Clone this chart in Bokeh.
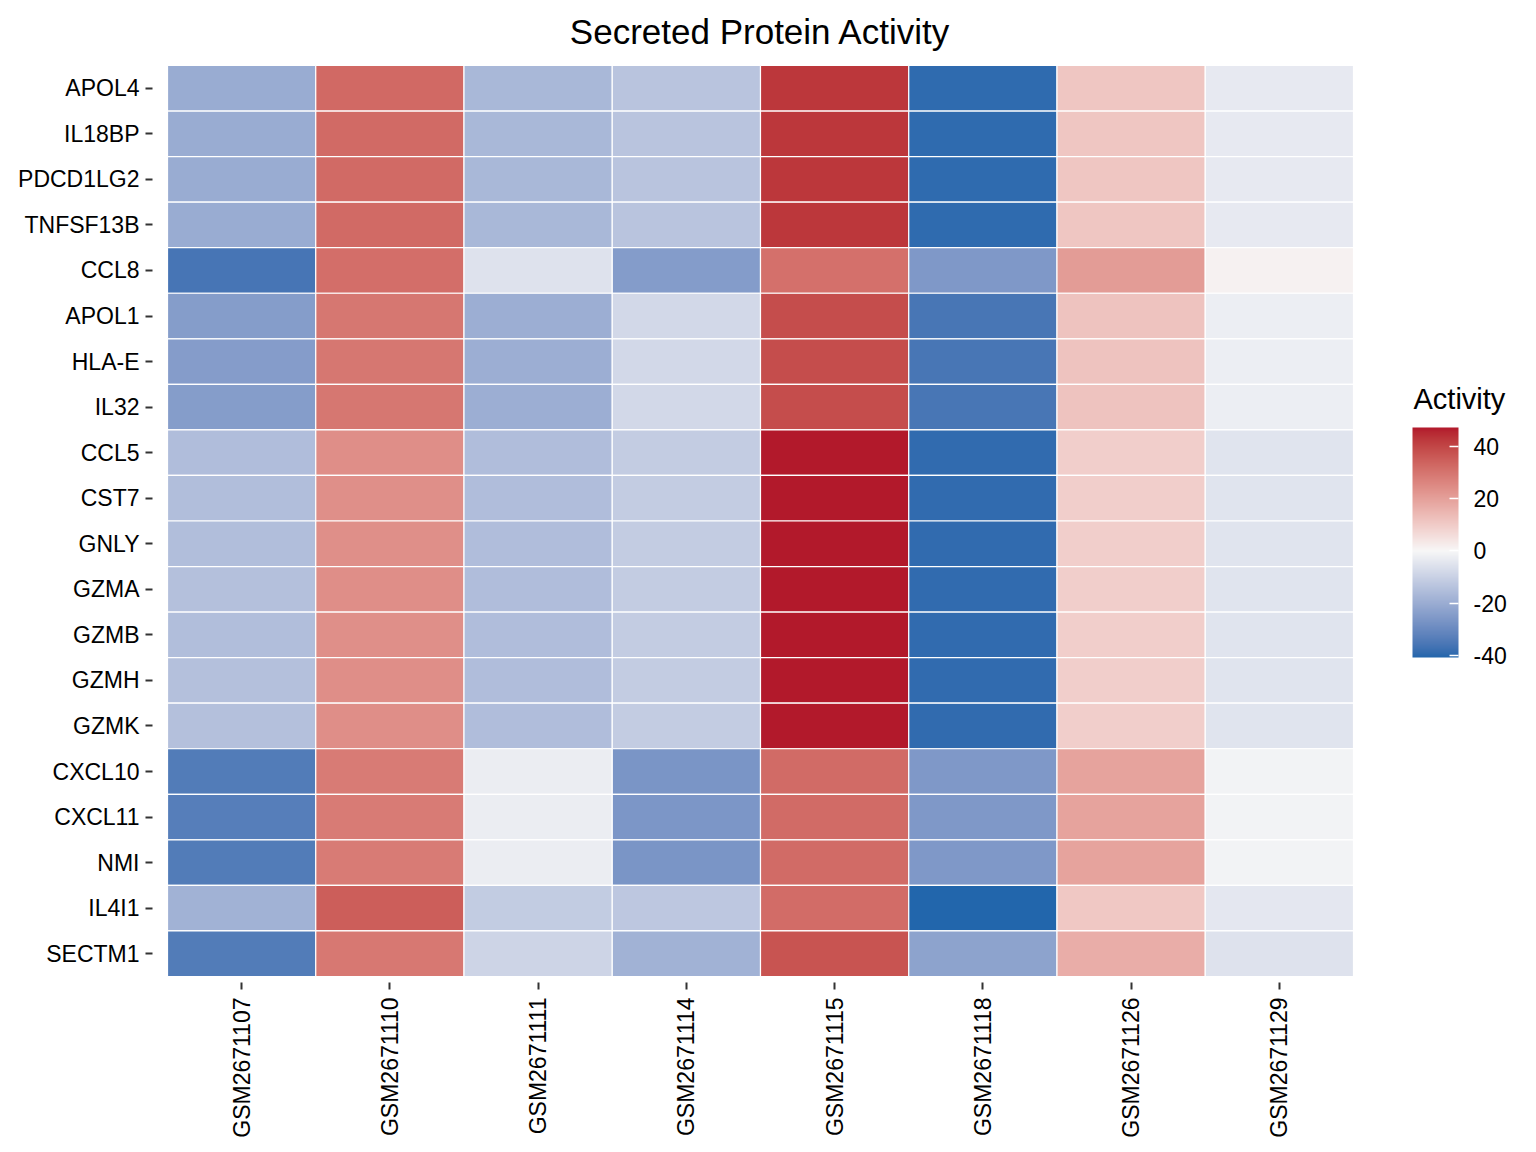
import math
from bokeh.plotting import figure
from bokeh.embed import file_html
from bokeh.resources import INLINE
from bokeh.models import (ColumnDataSource, FactorRange, LinearColorMapper, ColorBar,
                          FixedTicker)

samples = ["GSM2671107", "GSM2671110", "GSM2671111", "GSM2671114",
           "GSM2671115", "GSM2671118", "GSM2671126", "GSM2671129"]
genes = ["APOL4", "IL18BP", "PDCD1LG2", "TNFSF13B", "CCL8", "APOL1", "HLA-E", "IL32",
         "CCL5", "CST7", "GNLY", "GZMA", "GZMB", "GZMH", "GZMK",
         "CXCL10", "CXCL11", "NMI", "IL4I1", "SECTM1"]

GSM2671107 = [-20.2, -20.2, -20.2, -20.2, -36.0, -24.4, -24.6, -24.4,
              -15.5, -15.0, -15.0, -14.5, -15.0, -14.5, -14.5,
              -34.1, -33.5, -34.1, -18.5, -34.1]
GSM2671110 = [32.6, 32.4, 32.4, 32.4, 31.5, 29.5, 29.5, 29.5,
              24.2, 24.0, 24.0, 24.2, 24.0, 24.2, 24.2,
              28.7, 28.7, 28.7, 35.0, 29.4]
GSM2671111 = [-16.8, -16.8, -16.8, -16.8, -5.4, -19.7, -19.7, -19.7,
              -15.5, -15.5, -15.5, -15.5, -15.5, -15.5, -15.5,
              -2.6, -2.6, -2.6, -11.5, -9.3]
GSM2671114 = [-13.5, -13.5, -13.5, -13.5, -24.7, -8.1, -8.1, -8.1,
              -11.3, -11.3, -11.3, -11.3, -11.3, -11.3, -11.3,
              -26.7, -26.2, -26.7, -12.7, -18.5]
GSM2671115 = [42.9, 42.9, 42.9, 42.9, 31.0, 38.6, 38.6, 38.6,
              47.3, 47.3, 47.3, 47.3, 47.3, 47.3, 47.3,
              32.3, 32.3, 32.3, 31.9, 37.3]
GSM2671118 = [-39.4, -39.4, -39.4, -39.4, -25.8, -35.9, -35.9, -35.9,
              -39.2, -39.2, -39.2, -39.2, -39.2, -39.2, -39.2,
              -25.7, -25.7, -25.7, -40.8, -22.9]
GSM2671126 = [11.2, 11.2, 11.2, 11.2, 21.0, 11.9, 11.9, 11.9,
              9.3, 9.3, 9.3, 9.3, 9.3, 9.3, 9.3,
              19.3, 19.3, 19.3, 10.7, 16.9]
GSM2671129 = [-3.6, -3.6, -3.6, -3.6, 1.2, -2.3, -2.3, -2.3,
              -4.9, -4.9, -4.9, -4.9, -4.9, -4.9, -4.9,
              -1.2, -1.2, -1.2, -4.1, -5.4]

columns = [GSM2671107, GSM2671110, GSM2671111, GSM2671114,
           GSM2671115, GSM2671118, GSM2671126, GSM2671129]
colorbar_ticks = [-40, -20, 0, 20, 40]
colorbar_labels = ["-40", "-20", "0", "20", "40"]

LOW_COL, MID_COL, HIGH_COL = "#2166AC", "#F7F7F7", "#B2182B"
FONT = "Liberation Sans"

# ---------- CIELAB interpolation (as ggplot's colour ramps) ----------
def _hex_to_lab(h):
    r, g, b = [int(h[i:i + 2], 16) / 255 for i in (1, 3, 5)]
    def lin(c):
        return c / 12.92 if c <= 0.04045 else ((c + 0.055) / 1.055) ** 2.4
    r, g, b = lin(r), lin(g), lin(b)
    X = (0.4124 * r + 0.3576 * g + 0.1805 * b) / 0.95047
    Y = (0.2126 * r + 0.7152 * g + 0.0722 * b)
    Z = (0.0193 * r + 0.1192 * g + 0.9505 * b) / 1.08883
    def f(t):
        return t ** (1 / 3) if t > (6 / 29) ** 3 else t / (3 * (6 / 29) ** 2) + 4 / 29
    return 116 * f(Y) - 16, 500 * (f(X) - f(Y)), 200 * (f(Y) - f(Z))

def _lab_to_hex(L, a, b):
    fy = (L + 16) / 116
    fx = fy + a / 500
    fz = fy - b / 200
    def finv(t):
        return t ** 3 if t > 6 / 29 else 3 * (6 / 29) ** 2 * (t - 4 / 29)
    X, Y, Z = finv(fx) * 0.95047, finv(fy), finv(fz) * 1.08883
    r = 3.2406 * X - 1.5372 * Y - 0.4986 * Z
    g = -0.9689 * X + 1.8758 * Y + 0.0415 * Z
    bb = 0.0557 * X - 0.2040 * Y + 1.0570 * Z
    def gam(c):
        c = min(max(c, 0.0), 1.0)
        return 12.92 * c if c <= 0.0031308 else 1.055 * c ** (1 / 2.4) - 0.055
    return "#%02x%02x%02x" % tuple(int(round(gam(c) * 255)) for c in (r, g, bb))

def _mix(c1, c2, t):
    l1, l2 = _hex_to_lab(c1), _hex_to_lab(c2)
    return _lab_to_hex(*[l1[k] + (l2[k] - l1[k]) * t for k in range(3)])

all_vals = [v for col in columns for v in col]
vmin, vmax = min(all_vals), max(all_vals)
N = 512
palette = []
for i in range(N):
    v = vmin + (i + 0.5) / N * (vmax - vmin)
    if v < 0:
        palette.append(_mix(MID_COL, LOW_COL, v / vmin))
    else:
        palette.append(_mix(MID_COL, HIGH_COL, v / vmax))

mapper = LinearColorMapper(palette=palette, low=vmin, high=vmax)

xs, ys, vs = [], [], []
for s, col in zip(samples, columns):
    for g, v in zip(genes, col):
        xs.append(s)
        ys.append(g)
        vs.append(v)
src = ColumnDataSource(dict(sample=xs, gene=ys, value=vs))

# frame: x 152..1368, y 59..982 ; tiles: x 167..1353, y 65..976
p = figure(width=1536, height=1152,
           x_range=FactorRange(factors=samples, range_padding=0.1012,
                               range_padding_units="absolute"),
           y_range=FactorRange(factors=genes[::-1], range_padding=0.1317,
                               range_padding_units="absolute"),
           output_backend="svg", toolbar_location=None,
           min_border_left=152, min_border_right=168,
           min_border_top=59, min_border_bottom=170)

p.rect(x="sample", y="gene", width=1, height=1, source=src,
       fill_color={"field": "value", "transform": mapper},
       line_color="white", line_width=1.2)

p.outline_line_color = None
p.grid.visible = False
p.background_fill_color = "white"

p.title.text = "Secreted Protein Activity"
p.title.align = "center"
p.title.vertical_align = "top"
p.title.text_font = FONT
p.title.text_font_size = "35px"
p.title.text_font_style = "normal"
p.title.text_color = "black"
p.title.standoff = 14

for ax in (p.xaxis[0], p.yaxis[0]):
    ax.axis_line_color = None
    ax.major_tick_line_color = "#333333"
    ax.major_tick_line_width = 2
    ax.major_tick_out = 7
    ax.major_tick_in = 0
    ax.minor_tick_line_color = None
    ax.major_label_text_font = FONT
    ax.major_label_text_font_size = "23px"
    ax.major_label_text_color = "black"
p.xaxis.major_label_orientation = math.pi / 2
p.xaxis.major_label_standoff = 8
p.yaxis.major_label_standoff = 6

FRAME_LEFT, FRAME_BOTTOM = 152, 982
cb = ColorBar(color_mapper=mapper, ticker=FixedTicker(ticks=colorbar_ticks),
              major_label_overrides=dict(zip(colorbar_ticks, colorbar_labels)),
              width=46, height=230,
              location=(1412 - FRAME_LEFT, FRAME_BOTTOM - 657),
              margin=0, padding=0,
              major_label_text_font=FONT, major_label_text_font_size="23px",
              major_label_text_color="black", label_standoff=15,
              major_tick_line_color="white", major_tick_line_width=1.5,
              major_tick_in=9, major_tick_out=0,
              minor_tick_line_color=None, bar_line_color=None,
              border_line_color=None, background_fill_color=None)
p.add_layout(cb, "center")

# legend title: a horizontal colour bar whose bar is fully transparent,
# used only to draw its horizontal title above the real bar
cb_title = ColorBar(color_mapper=mapper, ticker=FixedTicker(ticks=[]),
                    orientation="horizontal", width=90, height=1,
                    location=(1413 - FRAME_LEFT, FRAME_BOTTOM - 415),
                    margin=0, padding=0, scale_alpha=0,
                    title="Activity", title_text_font=FONT,
                    title_text_font_size="29px", title_text_font_style="normal",
                    title_text_color="black", title_standoff=0,
                    major_label_text_color=None, major_tick_line_color=None,
                    minor_tick_line_color=None, bar_line_color=None,
                    border_line_color=None, background_fill_color=None)
p.add_layout(cb_title, "center")

open("out.html", "w").write(file_html(p, INLINE))
